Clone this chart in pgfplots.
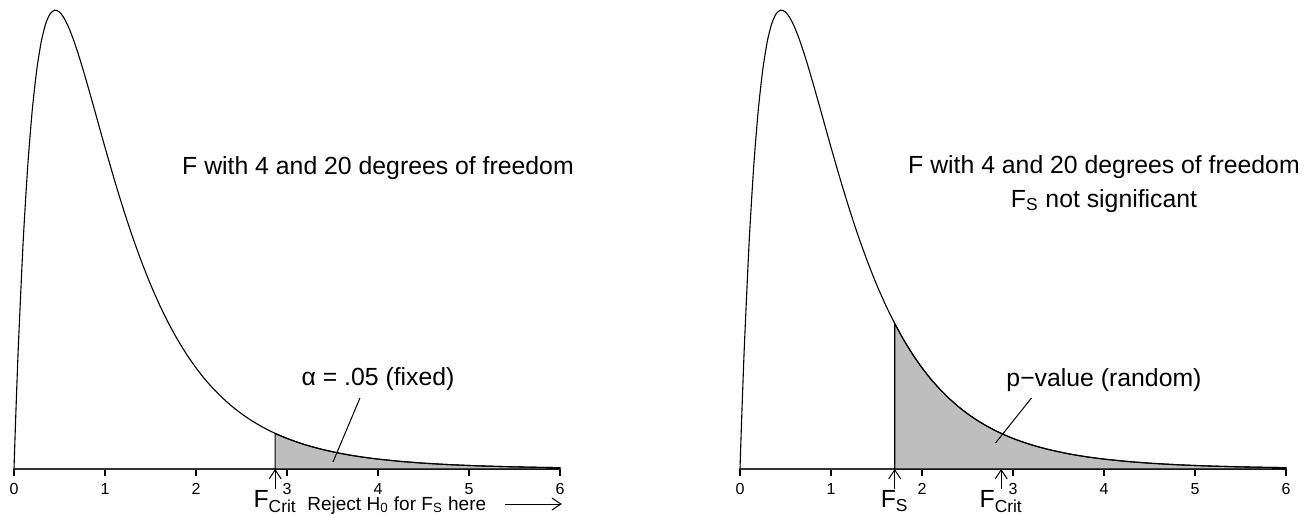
\documentclass[border=0pt]{standalone}
\usepackage{fontspec}
\setmainfont{Liberation Sans}
\usepackage{pgfplots}
\pgfplotsset{compat=1.18}
\usetikzlibrary{arrows.meta}
\definecolor{rgray}{RGB}{190,190,190}

\pgfplotsset{
  fpanel/.style={
    scale only axis, width=273bp, height=229.5bp,
    xmin=0, xmax=6, ymin=0, ymax=0.7041,
    clip=false,
    axis x line=bottom, axis line style={-, line width=0.75bp, black!80},
    hide y axis,
    xtick={0,1,2,3,4,5,6},
    tick align=outside, major tick length=3.5bp,
    tick style={line width=0.6bp, black},
    /pgf/number format/assume math mode=true,
    xticklabel style={font=\fontsize{8bp}{9bp}\selectfont, anchor=base, yshift=-9bp},
    anchor=south west,
  },
  curve/.style={black, line width=0.55bp, smooth, tension=0.4},
}

\newcommand{\bigf}{\fontsize{12.4bp}{14bp}\selectfont}
\newcommand{\smallf}{\fontsize{9.5bp}{11bp}\selectfont}

\begin{document}
\begin{tikzpicture}
\useasboundingbox (-7bp,-23.5bp) rectangle (649bp,234.5bp);

% ---------- left panel ----------
\begin{axis}[fpanel, at={(0,0)}]
\addplot[fill=rgray, draw=black, line width=0.55bp] coordinates {
(2.87,0) (2.87,0.0546) (2.9,0.0527) (3.0,0.0469) (3.1,0.0418) (3.2,0.0372) (3.3,0.0332)
(3.4,0.0296) (3.5,0.0265) (3.6,0.0236) (3.7,0.0211) (3.8,0.0189) (3.9,0.01695)
(4.0,0.0152) (4.25,0.01163) (4.5,0.00895) (4.75,0.00692) (5.0,0.00537)
(5.25,0.0042) (5.5,0.00329) (5.75,0.00259) (6.0,0.00205) (6.0,0)} -- cycle;
\addplot[curve] coordinates {
(0,0) (0.01,0.04296) (0.02,0.0839) (0.03,0.1229) (0.05,0.1953) (0.1,0.3469) (0.15,0.4629)
(0.2,0.5496) (0.25,0.6125) (0.3,0.6560) (0.35,0.6838) (0.4,0.6989) (0.45,0.7040)
(0.5,0.7010) (0.55,0.6918) (0.6,0.6776) (0.65,0.6599) (0.7,0.6394) (0.75,0.6168)
(0.8,0.5930) (0.85,0.5684) (0.9,0.5435) (0.95,0.5183) (1.0,0.4935) (1.1,0.4451)
(1.2,0.3995) (1.3,0.3572) (1.4,0.3185) (1.5,0.2833) (1.6,0.2516) (1.7,0.2232)
(1.8,0.1978) (1.9,0.1752) (2.0,0.1552) (2.1,0.1374) (2.2,0.1218) (2.3,0.1079)
(2.4,0.0956) (2.5,0.0848) (2.6,0.0752) (2.7,0.0668) (2.8,0.0593) (2.9,0.0527)
(3.0,0.0469) (3.1,0.0418) (3.2,0.0372) (3.3,0.0332) (3.4,0.0296) (3.5,0.0265)
(3.6,0.0236) (3.7,0.0211) (3.8,0.0189) (3.9,0.01695) (4.0,0.0152) (4.25,0.01163)
(4.5,0.00895) (4.75,0.00692) (5.0,0.00537) (5.25,0.0042) (5.5,0.00329)
(5.75,0.00259) (6.0,0.00205)};
\node[font=\bigf, anchor=base] at (axis cs:4,0.4525) {F with 4 and 20 degrees of freedom};
\node[font=\bigf, anchor=base] at (axis cs:4,0.1288) {α = .05 (fixed)};
\draw[line width=0.5bp] (axis cs:3.802,0.1089) -- (axis cs:3.505,0.0107);
\draw[line width=0.5bp, -{Straight Barb[length=4.5bp,width=6bp]}] (axis cs:2.87,-0.0307) -- (axis cs:2.87,0);
\node[font=\bigf, anchor=base, inner sep=0pt] at (axis cs:2.87,-0.0598) {F\textsubscript{Crit}};
\node[font=\smallf, anchor=base west, inner sep=0pt] at (axis cs:3.22,-0.0629) {Reject H\textsubscript{0} for F\textsubscript{S} here};
\draw[line width=0.5bp, -{Straight Barb[length=4.5bp,width=6bp]}] (axis cs:5.396,-0.0537) -- (axis cs:6.02,-0.0537);
\end{axis}

% ---------- right panel ----------
\begin{axis}[fpanel, at={(363bp,0)}]
\addplot[fill=rgray, draw=black, line width=0.55bp] coordinates {
(1.7,0) (1.7,0.2232) (1.8,0.1978) (1.9,0.1752) (2.0,0.1552) (2.1,0.1374) (2.2,0.1218)
(2.3,0.1079) (2.4,0.0956) (2.5,0.0848) (2.6,0.0752) (2.7,0.0668) (2.8,0.0593)
(2.9,0.0527) (3.0,0.0469) (3.1,0.0418) (3.2,0.0372) (3.3,0.0332)
(3.4,0.0296) (3.5,0.0265) (3.6,0.0236) (3.7,0.0211) (3.8,0.0189) (3.9,0.01695)
(4.0,0.0152) (4.25,0.01163) (4.5,0.00895) (4.75,0.00692) (5.0,0.00537)
(5.25,0.0042) (5.5,0.00329) (5.75,0.00259) (6.0,0.00205) (6.0,0)} -- cycle;
\addplot[curve] coordinates {
(0,0) (0.01,0.04296) (0.02,0.0839) (0.03,0.1229) (0.05,0.1953) (0.1,0.3469) (0.15,0.4629)
(0.2,0.5496) (0.25,0.6125) (0.3,0.6560) (0.35,0.6838) (0.4,0.6989) (0.45,0.7040)
(0.5,0.7010) (0.55,0.6918) (0.6,0.6776) (0.65,0.6599) (0.7,0.6394) (0.75,0.6168)
(0.8,0.5930) (0.85,0.5684) (0.9,0.5435) (0.95,0.5183) (1.0,0.4935) (1.1,0.4451)
(1.2,0.3995) (1.3,0.3572) (1.4,0.3185) (1.5,0.2833) (1.6,0.2516) (1.7,0.2232)
(1.8,0.1978) (1.9,0.1752) (2.0,0.1552) (2.1,0.1374) (2.2,0.1218) (2.3,0.1079)
(2.4,0.0956) (2.5,0.0848) (2.6,0.0752) (2.7,0.0668) (2.8,0.0593) (2.9,0.0527)
(3.0,0.0469) (3.1,0.0418) (3.2,0.0372) (3.3,0.0332) (3.4,0.0296) (3.5,0.0265)
(3.6,0.0236) (3.7,0.0211) (3.8,0.0189) (3.9,0.01695) (4.0,0.0152) (4.25,0.01163)
(4.5,0.00895) (4.75,0.00692) (5.0,0.00537) (5.25,0.0042) (5.5,0.00329)
(5.75,0.00259) (6.0,0.00205)};
\node[font=\bigf, anchor=base] at (axis cs:4,0.4540) {F with 4 and 20 degrees of freedom};
\node[font=\bigf, anchor=base] at (axis cs:4,0.4018) {F\textsubscript{S} not significant};
\node[font=\bigf, anchor=base] at (axis cs:4,0.1258) {p−value (random)};
\draw[line width=0.5bp] (axis cs:3.203,0.1089) -- (axis cs:2.808,0.0399);
\draw[line width=0.5bp, -{Straight Barb[length=4.5bp,width=6bp]}] (axis cs:1.7,-0.0307) -- (axis cs:1.7,0);
\node[font=\bigf, anchor=base, inner sep=0pt] at (axis cs:1.7,-0.0598) {F\textsubscript{S}};
\draw[line width=0.5bp, -{Straight Barb[length=4.5bp,width=6bp]}] (axis cs:2.87,-0.0307) -- (axis cs:2.87,0);
\node[font=\bigf, anchor=base, inner sep=0pt] at (axis cs:2.87,-0.0598) {F\textsubscript{Crit}};
\end{axis}
\end{tikzpicture}
\end{document}
